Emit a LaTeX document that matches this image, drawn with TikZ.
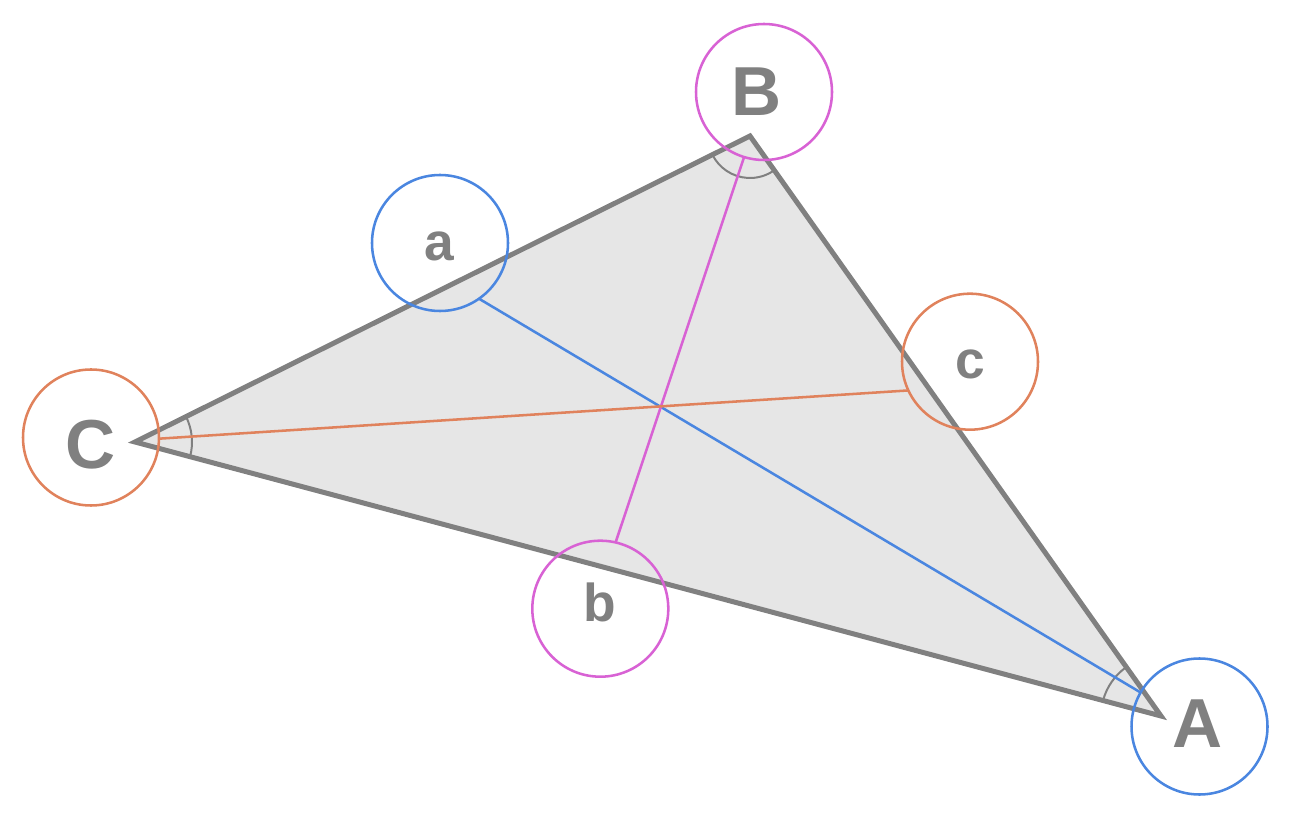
\documentclass[tikz,border=0pt]{standalone}
\usepackage{fontspec}
\setmainfont{Liberation Sans}
\usetikzlibrary{angles}
\definecolor{edgegray}{RGB}{128,128,128}
\definecolor{fillgray}{RGB}{230,230,230}
\definecolor{cblue}{RGB}{74,134,224}
\definecolor{cpink}{RGB}{216,98,212}
\definecolor{corange}{RGB}{224,130,92}
\begin{document}
\begin{tikzpicture}[x=0.75pt,y=0.75pt,
 tri/.style={draw=edgegray, fill=fillgray, line width=3.75pt, line join=miter},
 ring/.style={circle, draw=#1, line width=1.9pt, minimum size=102pt, inner sep=0pt, outer sep=0pt},
 big/.style={text=edgegray, font=\fontsize{52}{52}\selectfont\bfseries, inner sep=0pt},
 small/.style={text=edgegray, font=\fontsize{40}{40}\selectfont\bfseries, inner sep=0pt},
 link/.style={draw=#1, line width=1.9pt},
 ang/.style={draw=edgegray, line width=1.5pt, angle radius=#1}
]
\useasboundingbox (0,0) rectangle (1296,822);
% triangle
\coordinate (vC) at (135,380);
\coordinate (vB) at (750,686);
\coordinate (vA) at (1161,106);
\filldraw[tri] (vC) -- (vB) -- (vA) -- cycle;
% angle marks
\pic[ang=42.75pt] {angle=vA--vC--vB};
\pic[ang=31.5pt] {angle=vC--vB--vA};
\pic[ang=45pt] {angle=vB--vA--vC};
% circles
\node[ring=cpink] (cB) at (764,730) {};
\node[ring=cblue] (cA) at (1199.5,95.5) {};
\node[ring=corange] (cC) at (91,384.5) {};
\node[ring=cblue] (ca) at (440,579) {};
\node[ring=cpink] (cb) at (600.3,213.3) {};
\node[ring=corange] (cc) at (970,460.3) {};
% connectors
\draw[link=cblue] (ca.-55.3) -- (cA.150.9);
\draw[link=cpink] (cB.253.1) -- (cb.77.6);
\draw[link=corange] (cC.-1.5) -- (cc.205.9);
% labels
\node[big] (B) at (757,730.5) {B};
\node[big] (A) at (1198,98) {A};
\node[big] (C) at (90.4,377.3) {C};
\node[small] (a) at (439.5,576) {a};
\node[small] (b) at (600,220) {b};
\node[small] (c) at (970,458) {c};
\end{tikzpicture}
\end{document}
